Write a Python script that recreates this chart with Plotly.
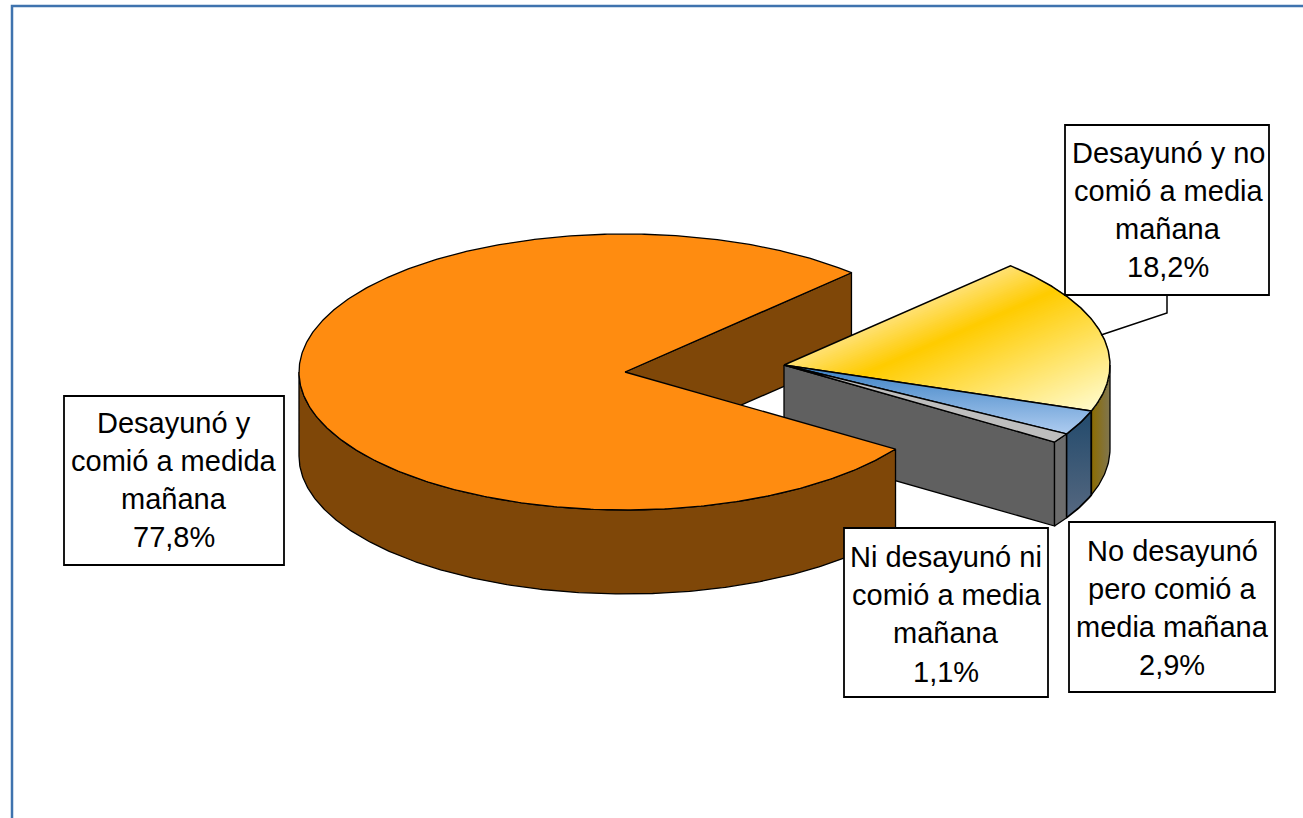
import numpy as np
import plotly.graph_objects as go

# ---- data ----
categories = ["Desayunó y no comió a media mañana",
              "No desayunó pero comió a media mañana",
              "Ni desayunó ni comió a media mañana",
              "Desayunó y comió a medida mañana"]
values = [18.2, 2.9, 1.1, 77.8]
label_lines = [["Desayunó y no", "comió a media", "mañana", "18,2%"],
               ["No desayunó", "pero comió a", "media mañana", "2,9%"],
               ["Ni desayunó ni", "comió a media", "mañana", "1,1%"],
               ["Desayunó y", "comió a medida", "mañana", "77,8%"]]

# ---- layout / style ----
W, H = 1303, 818
START = 46.0
RX, RY, DEPTH = 326, 138, 84
C_MAIN = (625, 372)
C_EXPL = (784, 365)
ORANGE, BROWN = "#FF8C10", "#7F4708"
GREY_TOP, GREY_RIM, GREY_WALL = "#BEBEBE", "#6C6C6C", "#606060"
BORDER = "#3F73AE"
FONT = "Liberation Sans"
boxes = [(1065, 125, 1269, 295), (1069, 522, 1275, 692), (844, 528, 1048, 697), (64, 396, 284, 565)]
line_y = [[153, 191, 229, 267], [551, 589, 627, 665], [557, 595, 633, 672], [423, 461, 499, 537]]
box_cx = [1168, 1172, 946, 174]

fractions = np.array(values) / sum(values) * 360.0
ends = START - np.cumsum(fractions)
starts = np.concatenate([[START], ends[:-1]])


def arc(c, a1, a2, dz=0):
    n = max(2, int(abs(a2 - a1) * 2))
    t = np.radians(np.linspace(a1, a2, n))
    return c[0] + RX * np.cos(t), c[1] - RY * np.sin(t) + dz


def wedge(c, a1, a2):
    x, y = arc(c, a1, a2)
    return np.r_[c[0], x, c[0]], np.r_[c[1], y, c[1]]


def rim(c, a1, a2):
    a1, a2 = min(a1, 0), max(a2, -180)
    x, y = arc(c, a1, a2)
    xb, yb = arc(c, a2, a1, DEPTH)
    return np.r_[x, xb, x[0]], np.r_[y, yb, y[0]]


def wall(c, a):
    x, y = arc(c, a, a)
    px, py = x[0], y[0]
    return [c[0], px, px, c[0], c[0]], [c[1], py, py + DEPTH, c[1] + DEPTH, c[1]]


def clip(px, py, n, t):
    """Keep the part of a polygon where n.p >= t."""
    out = []
    pts = list(zip(px, py))
    for i in range(len(pts)):
        p, q = np.array(pts[i]), np.array(pts[(i + 1) % len(pts)])
        dp, dq = n @ p - t, n @ q - t
        if dp >= 0:
            out.append(p)
        if dp * dq < 0:
            out.append(p + (q - p) * dp / (dp - dq))
    if not out:
        return [], []
    out = np.array(out)
    return out[:, 0], out[:, 1]


def mix(stops, t):
    ts = [s[0] for s in stops]
    return "rgb(%d,%d,%d)" % tuple(np.interp(t, ts, [s[1][k] for s in stops]) for k in range(3))


fig = go.Figure()


def poly(x, y, fill=None, lw=1.3, grad=None):
    kw = dict(fill="toself", fillcolor=fill) if fill else {}
    if grad:
        kw = dict(fill="toself", fillgradient=grad)
    fig.add_trace(go.Scatter(x=list(x), y=list(y), mode="lines",
                             line=dict(color="black" if lw else "rgba(0,0,0,0)", width=lw or 0),
                             hoverinfo="skip", showlegend=False, **kw))


# orange slice: rear wall first
poly(*wall(C_MAIN, START), fill=BROWN)

# exploded group
poly(*wall(C_EXPL, ends[2]), fill=GREY_WALL)
poly(*rim(C_EXPL, starts[0], ends[0]),
     grad=dict(type="horizontal", colorscale=[[0, "#8C6C00"], [1, "#807650"]]))
poly(*rim(C_EXPL, starts[1], ends[1]), lw=1.8,
     grad=dict(type="vertical", colorscale=[[0, "#566880"], [1, "#224A6C"]]))
poly(*rim(C_EXPL, starts[2], ends[2]), fill=GREY_RIM)

# yellow top with its diagonal gradient
wx, wy = wedge(C_EXPL, starts[0], ends[0])
normal = np.array([0.4, 0.916])
stops = [(646, (255, 226, 120)), (688, (255, 204, 0)), (816, (255, 252, 208))]
poly(wx, wy, fill=mix(stops, 646), lw=0)
for t in np.arange(646, 816, 2.0):
    cx, cy = clip(wx, wy, normal, t)
    if len(cx):
        poly(np.r_[cx, cx[0]], np.r_[cy, cy[0]], fill=mix(stops, t + 1), lw=0)
poly(wx, wy, lw=1.5)

poly(*wedge(C_EXPL, starts[1], ends[1]), lw=1.5,
     grad=dict(type="vertical", colorscale=[[0, "#AECCF0"], [1, "#3A80C4"]]))
poly(*wedge(C_EXPL, starts[2], ends[2]), fill=GREY_TOP)

# orange front and top
poly(*rim(C_MAIN, starts[3], -180), fill=BROWN)
poly(*wedge(C_MAIN, starts[3], ends[3]), fill=ORANGE)

# leader of the yellow label
fig.add_trace(go.Scatter(x=[1101, 1167, 1167], y=[335, 313, 295], mode="lines",
                         line=dict(color="black", width=1.5),
                         hoverinfo="skip", showlegend=False))

# labels
for lines, box, cx, ys in zip(label_lines, boxes, box_cx, line_y):
    fig.add_shape(type="rect", xref="x", yref="y", x0=box[0], y0=box[1], x1=box[2], y1=box[3],
                  fillcolor="white", line=dict(color="black", width=1.8), layer="above")
    for txt, yy in zip(lines, ys):
        fig.add_annotation(x=cx, y=yy, text=txt, showarrow=False, xref="x", yref="y",
                           xanchor="center", yanchor="middle",
                           font=dict(family=FONT, size=29, color="black"))

# frame of the chart area
fig.add_shape(type="path", xref="x", yref="y", path=f"M 12 {H} L 12 6 L {W} 6",
              line=dict(color=BORDER, width=2.5), layer="above")

fig.update_layout(width=W, height=H, margin=dict(l=0, r=0, t=0, b=0),
                  paper_bgcolor="white", plot_bgcolor="white", showlegend=False,
                  xaxis=dict(range=[0, W], visible=False, fixedrange=True),
                  yaxis=dict(range=[H, 0], visible=False, fixedrange=True))
fig.write_html("out.html", post_script="document.body.style.margin='0';",
               config=dict(displayModeBar=False))
